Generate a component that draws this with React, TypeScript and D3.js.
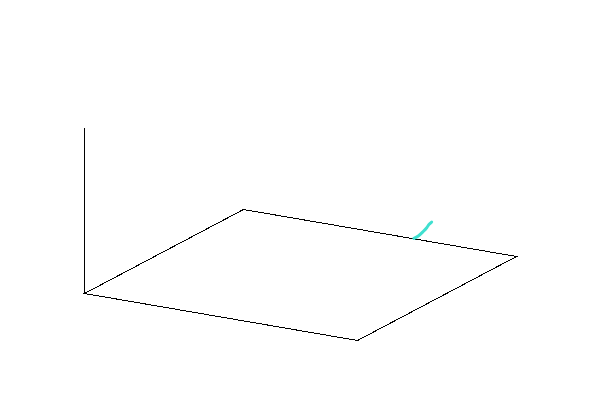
import React from "react";
import * as d3 from "d3";

// 3D data (unit cube coordinates)
const curveX = [0.626, 0.642, 0.66, 0.673, 0.682, 0.691];
const curveY = [1, 1, 1, 1, 1, 1];
const curveZ = [0, 0.019, 0.051, 0.078, 0.101, 0.117];

const domainX = [0, 1];
const domainY = [0, 1];
const domainZ = [0, 1];

const W = 600;
const H = 400;

// projection: origin + x*ex + y*ey + z*ez
const origin = { x: 84, y: 293 };
const xProjX = d3.scaleLinear().domain(domainX).range([0, 273]);
const xProjY = d3.scaleLinear().domain(domainX).range([0, 47]);
const yProjX = d3.scaleLinear().domain(domainY).range([0, 159]);
const yProjY = d3.scaleLinear().domain(domainY).range([0, -84]);
const zProjY = d3.scaleLinear().domain(domainZ).range([0, -166]);

function project(x: number, y: number, z: number): [number, number] {
  return [
    origin.x + xProjX(x) + yProjX(y),
    origin.y + xProjY(x) + yProjY(y) + zProjY(z),
  ];
}

export default function App() {
  const floor = [
    project(domainX[0], domainY[0], domainZ[0]),
    project(domainX[1], domainY[0], domainZ[0]),
    project(domainX[1], domainY[1], domainZ[0]),
    project(domainX[0], domainY[1], domainZ[0]),
  ];
  const floorPath = d3.line()(floor) + "Z";
  const zAxis = d3.line()([
    project(domainX[0], domainY[0], domainZ[0]),
    project(domainX[0], domainY[0], domainZ[1]),
  ]);
  const pts = curveX.map((x, i) => project(x, curveY[i], curveZ[i]));
  const curvePath = d3.line().curve(d3.curveCatmullRom)(pts as [number, number][]);

  return (
    <svg
      width={W}
      height={H}
      style={{ position: "absolute", left: 0, top: 0, display: "block", background: "#fff" }}
    >
      <g transform="translate(0.5,0.5)">
        <path d={floorPath} fill="none" stroke="#000" strokeWidth={1} shapeRendering="crispEdges" />
        <path d={zAxis ?? ""} fill="none" stroke="#000" strokeWidth={1} shapeRendering="crispEdges" />
      </g>
      <path
        d={curvePath ?? ""}
        fill="none"
        stroke="#40e0d0"
        strokeWidth={3}
        strokeLinecap="round"
        strokeLinejoin="round"
      />
    </svg>
  );
}
